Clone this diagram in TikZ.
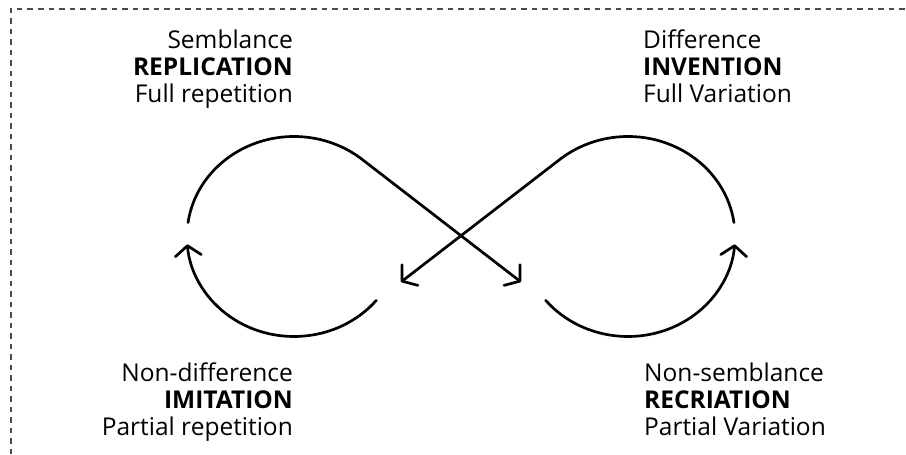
\documentclass[tikz,border=0pt]{standalone}
\usepackage{fontspec}
\setmainfont{Open Sans}
\usetikzlibrary{arrows.meta,calc}

\begin{document}
\begin{tikzpicture}[x=1pt,y=1pt,
  loopline/.style={line width=2.7pt, line cap=round,
    -{Straight Barb[length=10pt,width=26pt,round]}},
  frameline/.style={line width=1.1pt, draw=black!70, dash pattern=on 5.5pt off 5pt},
  lbl/.style={inner sep=0pt, font=\fontsize{24.5}{26}\selectfont},
  lblb/.style={lbl, font=\fontsize{24.5}{26}\selectfont\bfseries}
]
\useasboundingbox (0,0) rectangle (906,455);

% dashed frame running off the right and bottom edges
\coordinate (fa) at (11,-10);
\coordinate (fb) at (11,446);
\coordinate (fc) at (920,446);
\draw[frameline] (fa) -- (fb) -- (fc);

% centres of the two loops and the tips of the crossing arrows
\coordinate (cl) at (294,218.5);
\coordinate (cr) at (628,218.5);
\coordinate (tipl) at (401,173);
\coordinate (tipr) at (521,173);

% upper left loop into the falling diagonal
\draw[loopline] ($(cl)+(172:107 and 100)$)
  arc[start angle=172, end angle=50.5, x radius=107, y radius=100] -- (tipr);
% upper right loop into the rising diagonal
\draw[loopline] ($(cr)+(8:107 and 100)$)
  arc[start angle=8, end angle=129.5, x radius=107, y radius=100] -- (tipl);
% lower left return arc
\draw[loopline] ($(cl)+(-39.7:107 and 100)$)
  arc[start angle=-39.7, end angle=-175.5, x radius=107, y radius=100];
% lower right return arc
\draw[loopline] ($(cr)+(-140.3:107 and 100)$)
  arc[start angle=-140.3, end angle=-4.5, x radius=107, y radius=100];

% labels
\node[lbl, anchor=base east]  (tl1) at (293,406.3) {Semblance};
\node[lblb, anchor=base east] (tl2) at (293,379.6) {REPLICATION};
\node[lbl, anchor=base east]  (tl3) at (293,352.9) {Full repetition};

\node[lbl, anchor=base west]  (tr1) at (643,406.3) {Difference};
\node[lblb, anchor=base west] (tr2) at (643,379.6) {INVENTION};
\node[lbl, anchor=base west]  (tr3) at (643,352.9) {Full Variation};

\node[lbl, anchor=base east]  (bl1) at (293,73.3) {Non-difference};
\node[lblb, anchor=base east] (bl2) at (293,46.6) {IMITATION};
\node[lbl, anchor=base east]  (bl3) at (293,19.5) {Partial repetition};

\node[lbl, anchor=base west]  (br1) at (644,73.3) {Non-semblance};
\node[lblb, anchor=base west] (br2) at (644,46.6) {RECRIATION};
\node[lbl, anchor=base west]  (br3) at (644,19.5) {Partial Variation};
\end{tikzpicture}
\end{document}
